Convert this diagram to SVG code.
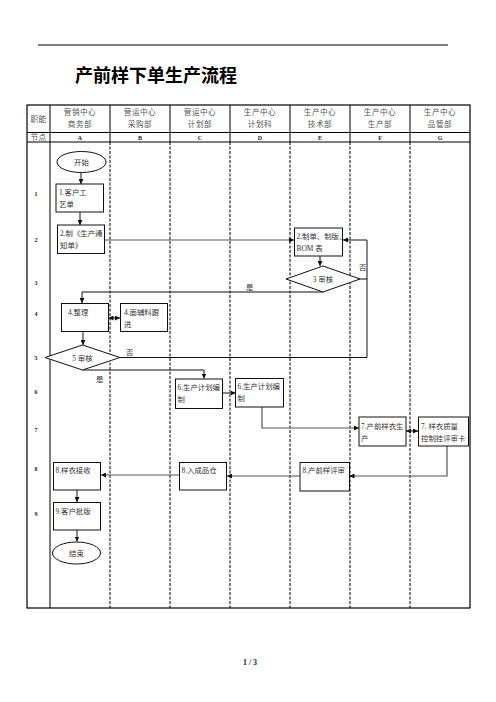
<svg xmlns="http://www.w3.org/2000/svg" width="496" height="702" viewBox="0 0 496 702">
<style>
.t{font-family:"Liberation Serif","Noto Sans CJK SC",serif;font-size:7.4px;fill:#333}
.h{font-family:"Liberation Serif","Noto Sans CJK SC",serif;font-size:7.6px;fill:#555;text-anchor:middle;letter-spacing:0.5px}
.l{font-family:"Liberation Serif",serif;font-size:6px;font-weight:bold;fill:#222;text-anchor:middle}
.box{fill:#fff;stroke:#111;stroke-width:1}
.c{fill:none;stroke:#111;stroke-width:1}
.g{fill:none;stroke:#555;stroke-width:1.2}
.grid{stroke:#000;stroke-width:1}
.dash{stroke:#000;stroke-width:1;stroke-dasharray:3,1.5}
</style>
<defs>
<marker id="a" viewBox="0 0 6 6" refX="6" refY="3" markerWidth="5" markerHeight="5" markerUnits="userSpaceOnUse" orient="auto-start-reverse"><path d="M0,0L6,3L0,6z" fill="#111"/></marker>
</defs>
<rect width="496" height="702" fill="#fff"/>
<line x1="38" y1="45" x2="448" y2="45" stroke="#000" stroke-width="1"/>
<text x="75" y="82" style="font-family:'Noto Sans CJK SC',sans-serif;font-size:18px;font-weight:bold;fill:#000">产前样下单生产流程</text>
<g id="table">
<rect x="27" y="105" width="443" height="503" fill="none" stroke="#000" stroke-width="1.2"/>
<line class="grid" x1="27" y1="132.5" x2="470" y2="132.5"/>
<line class="grid" x1="27" y1="142" x2="470" y2="142"/>
<line class="grid" x1="50" y1="105" x2="50" y2="608"/>
<g class="grid">
<line x1="110" y1="105" x2="110" y2="142"/><line x1="170" y1="105" x2="170" y2="142"/><line x1="230" y1="105" x2="230" y2="142"/><line x1="290" y1="105" x2="290" y2="142"/><line x1="350" y1="105" x2="350" y2="142"/><line x1="410" y1="105" x2="410" y2="142"/>
</g>
<g class="dash">
<line x1="110" y1="142" x2="110" y2="608"/><line x1="170" y1="142" x2="170" y2="608"/><line x1="230" y1="142" x2="230" y2="608"/><line x1="290" y1="142" x2="290" y2="608"/><line x1="350" y1="142" x2="350" y2="608"/><line x1="410" y1="142" x2="410" y2="608"/>
</g>
<text class="h" x="38.5" y="122">职能</text>
<text class="h" x="38.5" y="140">节点</text>
<text class="h" x="80" y="115">营销中心</text><text class="h" x="80" y="127">商务部</text>
<text class="h" x="140" y="115">营运中心</text><text class="h" x="140" y="127">采购部</text>
<text class="h" x="200" y="115">营运中心</text><text class="h" x="200" y="127">计划部</text>
<text class="h" x="260" y="115">生产中心</text><text class="h" x="260" y="127">计划科</text>
<text class="h" x="320" y="115">生产中心</text><text class="h" x="320" y="127">技术部</text>
<text class="h" x="380" y="115">生产中心</text><text class="h" x="380" y="127">生产部</text>
<text class="h" x="440" y="115">生产中心</text><text class="h" x="440" y="127">品管部</text>
<text class="l" x="80" y="139.5">A</text><text class="l" x="140" y="139.5">B</text><text class="l" x="200" y="139.5">C</text><text class="l" x="260" y="139.5">D</text><text class="l" x="320" y="139.5">E</text><text class="l" x="380" y="139.5">F</text><text class="l" x="440" y="139.5">G</text>
<text class="l" x="36" y="196">1</text><text class="l" x="36" y="242">2</text><text class="l" x="36" y="285">3</text><text class="l" x="36" y="316">4</text><text class="l" x="36" y="360">5</text><text class="l" x="36" y="394">6</text><text class="l" x="36" y="432">7</text><text class="l" x="36" y="471">8</text><text class="l" x="36" y="516">9</text>
</g>
<g id="connectors">
<path class="c" d="M81,173V184" marker-end="url(#a)"/>
<path class="c" d="M80,212V225" marker-end="url(#a)"/>
<path class="g" d="M105,240H294" marker-end="url(#a)"/>
<path class="c" d="M320,256V266" marker-end="url(#a)"/>
<path class="c" d="M323,292H82V303" marker-end="url(#a)"/>
<path class="c" d="M360,279H367"/>
<path class="c" d="M120,357.5H367V240H343" marker-end="url(#a)"/>
<path class="c" d="M108.5,318H120" marker-start="url(#a)" marker-end="url(#a)"/>
<path class="c" d="M83,331V345" marker-end="url(#a)"/>
<path class="c" d="M82.5,370H204V378.5" marker-end="url(#a)"/>
<path class="c" d="M223,393H235.5" marker-end="url(#a)"/>
<path class="g" d="M262,407V428H359" marker-end="url(#a)"/>
<path class="c" d="M406,431H418" marker-start="url(#a)" marker-end="url(#a)"/>
<path class="g" d="M447,446V476H349.5" marker-end="url(#a)"/>
<path class="g" d="M300,476H227" marker-end="url(#a)"/>
<path class="g" d="M179,475H101" marker-end="url(#a)"/>
<path class="c" d="M77,490V502" marker-end="url(#a)"/>
<path class="c" d="M77,530V541.5" marker-end="url(#a)"/>
<text class="t" x="246" y="290">是</text>
<text class="t" x="359" y="270">否</text>
<text class="t" x="126" y="355">否</text>
<text class="t" x="96" y="382">是</text>
</g>
<g id="start"><ellipse class="box" cx="81.5" cy="162" rx="24.5" ry="10.5"/><text class="t" x="81.5" y="165" text-anchor="middle">开始</text></g>
<g id="n1"><rect class="box" x="56" y="184" width="47.5" height="28"/><text class="t" x="59" y="195">1.客户工</text><text class="t" x="59" y="207">艺单</text></g>
<g id="n2"><rect class="box" x="57.5" y="225" width="47" height="28.5"/><text class="t" x="60" y="236">2.制《生产通</text><text class="t" x="60" y="248">知单》</text></g>
<g id="n2e"><rect class="box" x="294.5" y="228" width="48" height="28"/><text class="t" x="296.5" y="239">2.制单、制版、</text><text class="t" x="296.5" y="251">BOM 表</text></g>
<g id="d3"><polygon class="box" points="323,266 360,279 323,292 286,279"/><text class="t" x="323" y="282" text-anchor="middle">3 审核</text></g>
<g id="n4"><rect class="box" x="61.5" y="303.5" width="47" height="28"/><text class="t" x="68" y="315">4.整理</text></g>
<g id="n4b"><rect class="box" x="120.5" y="303.5" width="47" height="28"/><text class="t" x="124" y="315">4.面辅料跟</text><text class="t" x="124" y="327">进</text></g>
<g id="d5"><polygon class="box" points="82.5,345 120,357.5 82.5,370 45,357.5"/><text class="t" x="82.5" y="360.5" text-anchor="middle">5 审核</text></g>
<g id="n6c"><rect class="box" x="175.5" y="379" width="47" height="29.5"/><text class="t" x="177.5" y="390">6.生产计划编</text><text class="t" x="177.5" y="402">制</text></g>
<g id="n6d"><rect class="box" x="235.5" y="378.5" width="48" height="28.5"/><text class="t" x="237.5" y="389">6.生产计划编</text><text class="t" x="237.5" y="401">制</text></g>
<g id="n7f"><rect class="box" x="359" y="417" width="47" height="29"/><text class="t" x="361" y="429">7.产前样衣生</text><text class="t" x="361" y="441">产</text></g>
<g id="n7g"><rect class="box" x="418.5" y="417" width="50" height="29"/><text class="t" x="421" y="429">7. 样衣质量</text><text class="t" x="421" y="441">控制挂评审卡</text></g>
<g id="n8e"><rect class="box" x="300" y="462.5" width="49.5" height="28.5"/><text class="t" x="302.5" y="473">8.产前样评审</text></g>
<g id="n8c"><rect class="box" x="179.5" y="462.5" width="47" height="27.5"/><text class="t" x="181.5" y="473">8.入成品仓</text></g>
<g id="n8a"><rect class="box" x="53.5" y="462.5" width="47" height="27.5"/><text class="t" x="55.5" y="473">8.样衣接收</text></g>
<g id="n9"><rect class="box" x="53.5" y="502.5" width="47" height="27.5"/><text class="t" x="55.5" y="514">9.客户批版</text></g>
<g id="end"><ellipse class="box" cx="76.5" cy="553" rx="24" ry="11"/><text class="t" x="76.5" y="556" text-anchor="middle">结束</text></g>
<text x="250" y="665" text-anchor="middle" style="font-family:'Liberation Serif',serif;font-size:8px;font-weight:bold;fill:#222">1 / 3</text>
</svg>
